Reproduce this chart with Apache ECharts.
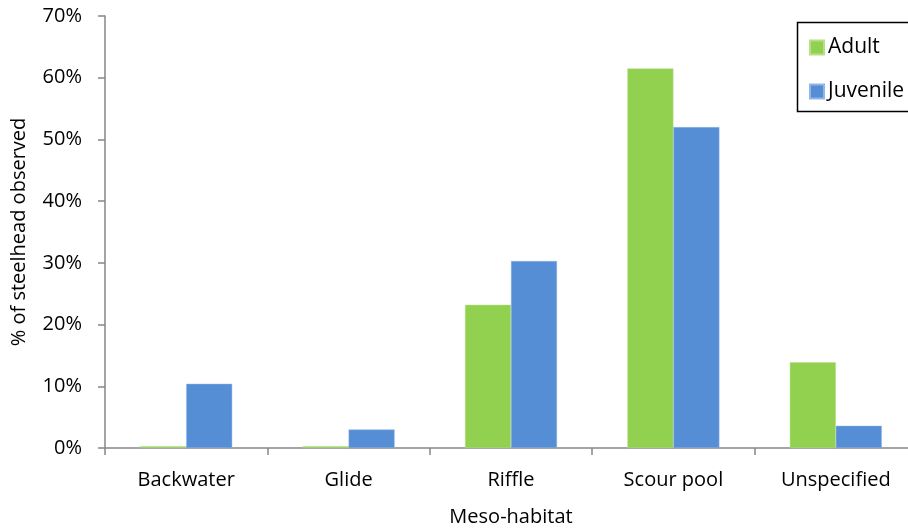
<!DOCTYPE html>
<html>
<head>
<meta charset="utf-8">
<script src="https://cdn.jsdelivr.net/npm/echarts@6/dist/echarts.min.js"></script>
<style>
html,body{margin:0;padding:0;background:#fff;}
#chart{width:908px;height:529px;}
</style>
</head>
<body>
<div id="chart"></div>
<script>
var categories = ['Backwater', 'Glide', 'Riffle', 'Scour pool', 'Unspecified'];
var adult = [0.3, 0.3, 23.2, 61.5, 13.9];
var juvenile = [10.4, 3.0, 30.3, 52.0, 3.6];
var seriesNames = ['Adult', 'Juvenile'];
var yTicks = [0, 10, 20, 30, 40, 50, 60, 70];

var FONT = '"Open Sans", sans-serif';
var chart = echarts.init(document.getElementById('chart'));
chart.setOption({
  animation: false,
  backgroundColor: '#fff',
  textStyle: {fontFamily: FONT},
  grid: {left: 105, right: -9, top: 16, bottom: 81, containLabel: false, outerBoundsMode: 'none'},
  graphic: [{
    type: 'rect', z: 100, silent: true,
    shape: {x: 797.5, y: 22.5, width: 200, height: 89},
    style: {fill: 'none', stroke: '#000', lineWidth: 1.5}
  }],
  legend: {
    orient: 'vertical',
    left: 798, top: 23,
    itemWidth: 14, itemHeight: 14, itemGap: 23,
    padding: [14, 0, 14, 11],
    icon: 'rect',
    textStyle: {fontFamily: FONT, fontSize: 21, color: '#000', padding: [0, 0, 0, -1]},
    data: seriesNames
  },
  xAxis: {
    type: 'category',
    data: categories,
    name: 'Meso-habitat',
    nameLocation: 'middle',
    nameGap: 59,
    nameTextStyle: {fontFamily: FONT, fontSize: 20, color: '#000'},
    axisLine: {lineStyle: {color: '#868686', width: 1.5}},
    axisTick: {show: true, length: 7, lineStyle: {color: '#868686', width: 1.5}},
    axisLabel: {fontFamily: FONT, fontSize: 20, color: '#000', margin: 22},
    splitLine: {show: false}
  },
  yAxis: {
    type: 'value',
    min: 0, max: 70, interval: 10,
    name: '% of steelhead observed',
    nameLocation: 'middle',
    nameGap: 76,
    nameTextStyle: {fontFamily: FONT, fontSize: 20, color: '#000'},
    axisLine: {show: true, lineStyle: {color: '#868686', width: 1.5}},
    axisTick: {show: true, length: 7, lineStyle: {color: '#868686', width: 1.5}},
    axisLabel: {fontFamily: FONT, fontSize: 20, color: '#000', margin: 23,
      formatter: function (v) { return yTicks.indexOf(v) >= 0 ? v + '%' : ''; }},
    splitLine: {show: false}
  },
  series: [
    {name: seriesNames[0], type: 'bar', data: adult, barWidth: 46, barGap: '0%',
     itemStyle: {color: '#92D050', borderColor: '#B5E08A', borderWidth: 0.5}},
    {name: seriesNames[1], type: 'bar', data: juvenile, barWidth: 46, barGap: '0%',
     itemStyle: {color: '#558ED5', borderColor: '#93B6E6', borderWidth: 0.5}}
  ]
});
</script>
</body>
</html>
